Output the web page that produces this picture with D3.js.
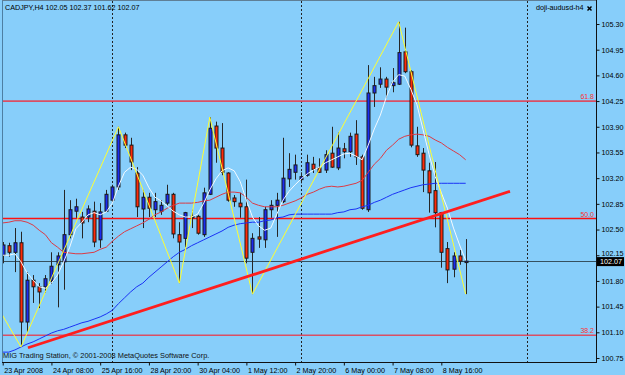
<!DOCTYPE html>
<html><head><meta charset="utf-8">
<script src="https://cdn.jsdelivr.net/npm/d3@7"></script>
<style>
body{margin:0;background:#87cefa;}
svg{display:block;}
text{font-family:"Liberation Sans",Arial,sans-serif;}
</style>
</head><body>
<svg id="c" width="625" height="375"></svg>
<script>
const symbolTitle = "CADJPY,H4";
const headerOHLC = ["102.05", "102.37", "101.62", "102.07"];
const expertName = "doji-audusd-h4";
const copyright = "MIG Trading Station, © 2001-2008 MetaQuotes Software Corp.";

const opens = [102.15,102.28,102.19,102.32,101.24,101.81,101.72,101.72,101.80,102.02,
102.06,102.43,102.75,102.67,102.67,102.75,102.36,102.75,102.90,103.08,
103.79,103.65,103.27,102.78,102.94,102.77,102.75,102.86,102.98,102.43,
102.38,102.66,102.68,102.43,102.98,103.91,103.61,103.27,102.93,102.86,
102.81,102.19,102.40,102.36,102.77,102.83,102.88,103.19,103.28,103.18,
103.24,103.39,103.34,103.31,103.54,103.34,103.60,103.56,103.80,103.49,
102.77,104.36,104.48,104.55,104.46,104.48,104.92,104.65,103.64,103.54,
103.30,103.03,102.73,102.24,101.96,102.14,102.05];
const highs = [102.33,102.32,102.52,102.47,101.92,101.88,101.77,101.88,102.19,102.19,
103.04,102.90,102.92,102.74,102.83,102.88,102.86,103.04,103.11,103.90,
103.82,103.75,103.35,103.04,103.00,103.00,102.90,103.11,103.00,102.60,
102.74,102.77,102.70,103.07,104.03,103.97,103.95,103.28,102.97,103.00,
103.18,102.45,102.67,102.81,102.90,103.00,103.75,103.54,103.52,103.28,
103.52,103.49,103.47,103.58,103.90,103.82,103.68,103.82,103.99,103.52,
104.74,104.58,104.71,104.58,104.70,105.33,105.25,104.67,103.90,103.61,
103.41,103.42,102.74,102.33,102.19,102.22,102.37];
const lows = [102.04,102.13,101.92,100.90,101.10,101.50,101.43,101.64,101.76,101.44,
101.68,102.38,102.66,102.38,102.60,102.26,102.25,102.74,102.88,103.04,
103.61,103.31,102.67,102.52,102.67,102.67,102.70,102.83,102.38,101.77,
102.26,102.52,102.43,102.40,102.97,103.41,103.24,102.88,102.81,102.66,
102.04,101.62,102.25,102.25,102.66,102.40,102.86,103.08,103.18,103.13,
103.22,103.27,103.27,103.27,103.34,103.31,103.47,103.49,103.38,102.77,
102.74,104.17,104.43,104.29,104.37,104.47,104.63,103.62,103.49,103.01,
102.73,102.53,101.98,101.77,101.85,102.02,101.62];
const closes = [102.29,102.19,102.32,101.24,101.81,101.72,101.65,101.83,102.00,102.14,
102.43,102.77,102.81,102.59,102.78,102.33,102.74,102.98,103.08,103.79,
103.65,103.42,102.81,102.94,102.79,102.88,102.83,102.98,102.44,102.33,
102.73,102.68,102.45,103.00,103.88,103.61,103.28,102.90,102.88,102.81,
102.11,102.38,102.37,102.77,102.83,102.90,103.20,103.32,103.38,103.22,
103.41,103.32,103.28,103.52,103.35,103.61,103.56,103.77,103.49,102.79,
104.36,104.46,104.55,104.44,104.50,104.91,104.65,103.65,103.52,103.31,
103.00,102.73,102.19,101.95,102.14,102.07,102.07];

const maFast = [102.15,102.15,102.17,102.06,101.91,101.81,101.72,101.70,101.77,101.88,
102.06,102.26,102.51,102.60,102.70,102.73,102.70,102.74,102.86,103.09,
103.28,103.35,103.32,103.24,103.07,102.94,102.89,102.82,102.75,102.70,
102.67,102.67,102.71,102.86,103.04,103.19,103.30,103.34,103.30,103.15,
102.90,102.67,102.55,102.49,102.52,102.71,102.90,103.02,103.11,103.19,
103.26,103.31,103.35,103.41,103.45,103.49,103.53,103.54,103.50,103.45,
103.65,103.87,104.06,104.31,104.51,104.61,104.59,104.41,104.20,103.86,
103.52,103.22,103.00,102.79,102.52,102.29,102.08];
const maMid = [102.59,102.60,102.62,102.62,102.60,102.56,102.49,102.43,102.32,102.26,
102.19,102.18,102.17,102.17,102.18,102.19,102.23,102.26,102.34,102.41,
102.47,102.51,102.55,102.59,102.64,102.70,102.74,102.79,102.83,102.86,
102.86,102.86,102.87,102.89,102.90,102.94,102.98,103.01,103.01,103.00,
102.94,102.86,102.83,102.81,102.81,102.81,102.83,102.86,102.89,102.93,
102.98,103.01,103.05,103.08,103.09,103.08,103.09,103.11,103.13,103.17,
103.28,103.39,103.47,103.58,103.65,103.73,103.77,103.79,103.80,103.79,
103.77,103.72,103.68,103.62,103.57,103.52,103.45];
const maSlow = [100.83,100.83,100.86,100.90,100.94,100.97,101.01,101.05,101.09,101.12,
101.14,101.17,101.20,101.23,101.25,101.28,101.31,101.35,101.40,101.49,
101.57,101.65,101.72,101.77,101.85,101.92,101.99,102.06,102.13,102.19,
102.23,102.28,102.32,102.36,102.40,102.44,102.48,102.53,102.56,102.58,
102.59,102.60,102.60,102.62,102.63,102.66,102.67,102.70,102.71,102.71,
102.71,102.71,102.71,102.71,102.71,102.73,102.74,102.77,102.78,102.81,
102.83,102.87,102.90,102.94,102.98,103.01,103.04,103.07,103.09,103.11,
103.12,103.13,103.13,103.13,103.13,103.13,103.13];

const zigzagIdx = [-4, 3, 19, 29, 34, 41, 65, 76];
const zigzagPrice = [101.90, 100.90, 103.90, 101.77, 104.03, 101.62, 105.33, 101.62];
const trendIdx = [4.15, 83.27];
const trendPrice = [100.89, 103.02];
const fibLabels = ["61.8", "50.0", "38.2"];
const fibPrices = [104.25, 102.65, 101.06];
const bidPrice = 102.07;
const separatorIdx = [18, 49, 86];
const priceTicks = [105.30,104.95,104.60,104.25,103.90,103.55,103.20,102.85,102.50,102.15,101.80,101.45,101.10,100.75];
const timeTickIdx = [0, 8, 16, 24, 32, 40, 48, 56, 64, 72];
const timeTickLabels = ["23 Apr 2008","24 Apr 08:00","25 Apr 16:00","28 Apr 20:00","30 Apr 04:00","1 May 12:00","2 May 20:00","6 May 00:00","7 May 08:00","8 May 16:00"];

const svg = d3.select("#c");
const plot = {l: 2, t: 1, r: 596, b: 362};
const x = d3.scaleLinear().domain([0, 76]).range([2.7, 2.7 + 76 * 6.092]);
const y = d3.scaleLinear().domain([100.75, 105.30]).range([358, 24]);

svg.append("rect").attr("width", 625).attr("height", 375).attr("fill", "#87cefa");
svg.append("defs").append("clipPath").attr("id", "pc").append("rect")
  .attr("x", plot.l).attr("y", plot.t).attr("width", plot.r - plot.l).attr("height", plot.b - plot.t);
const g = svg.append("g").attr("clip-path", "url(#pc)");

// separators
g.selectAll(".sep").data(separatorIdx).join("line")
  .attr("x1", d => Math.round(x(d)) + 0.5).attr("x2", d => Math.round(x(d)) + 0.5)
  .attr("y1", plot.t).attr("y2", plot.b)
  .attr("stroke", "#222").attr("stroke-width", 1).attr("stroke-dasharray", "2,2");

// fib levels
g.selectAll(".fib").data(fibPrices).join("line")
  .attr("x1", plot.l).attr("x2", plot.r)
  .attr("y1", d => y(d)).attr("y2", d => y(d))
  .attr("stroke", (d, i) => i === 1 ? "#ff1010" : "#e8384a")
  .attr("stroke-width", (d, i) => i === 1 ? 1.4 : 1.6)
  .attr("stroke-opacity", (d, i) => i === 1 ? 1 : 0.85);
svg.selectAll(".fibl").data(fibPrices).join("text")
  .attr("x", 594).attr("y", d => y(d) - 2).attr("text-anchor", "end")
  .attr("font-size", 7).attr("fill", "#ff3030").text((d, i) => fibLabels[i]);

// bid line
g.append("line").attr("x1", plot.l).attr("x2", plot.r)
  .attr("y1", Math.round(y(bidPrice)) + 0.5).attr("y2", Math.round(y(bidPrice)) + 0.5)
  .attr("stroke", "#35505e").attr("stroke-width", 1);

// candles
const idx = d3.range(opens.length);
g.selectAll(".wick").data(idx).join("line")
  .attr("x1", i => Math.round(x(i)) + 0.5).attr("x2", i => Math.round(x(i)) + 0.5)
  .attr("y1", i => y(highs[i])).attr("y2", i => y(lows[i]))
  .attr("stroke", "#262626").attr("stroke-width", 1);
g.selectAll(".body").data(idx).join("rect")
  .attr("x", i => Math.round(x(i)) - 1)
  .attr("width", 3)
  .attr("y", i => y(Math.max(opens[i], closes[i])))
  .attr("height", i => Math.max(1, Math.abs(y(opens[i]) - y(closes[i]))))
  .attr("fill", i => closes[i] >= opens[i] ? "#1a2cf0" : "#ff2a08")
  .attr("stroke", "#1a1a1a").attr("stroke-width", 1);

// moving averages
const maLine = arr => d3.line().x((d, i) => x(i)).y(d => y(d))(arr);
g.append("path").attr("d", maLine(maSlow)).attr("fill", "none").attr("stroke", "#1a32f5").attr("stroke-width", 1);
g.append("path").attr("d", maLine(maMid)).attr("fill", "none").attr("stroke", "#dc3a44").attr("stroke-width", 1);
g.append("path").attr("d", maLine(maFast)).attr("fill", "none").attr("stroke", "#f4faff").attr("stroke-width", 1);

// zigzag
g.append("path").attr("d", d3.line().x((d, i) => x(zigzagIdx[i])).y(d => y(d))(zigzagPrice))
  .attr("fill", "none").attr("stroke", "#ffff30").attr("stroke-width", 1);

// trendline
g.append("path").attr("d", d3.line().x((d, i) => x(trendIdx[i])).y(d => y(d))(trendPrice))
  .attr("fill", "none").attr("stroke", "#ff1e1e").attr("stroke-width", 2.8);

// frame
svg.append("line").attr("x1", 2.5).attr("x2", 2.5).attr("y1", 0).attr("y2", plot.b).attr("stroke", "#4d7fa3");
svg.append("line").attr("x1", 2).attr("x2", plot.r).attr("y1", 0.5).attr("y2", 0.5).attr("stroke", "#5f7f95");
svg.append("line").attr("x1", plot.r + 0.5).attr("x2", plot.r + 0.5).attr("y1", 0).attr("y2", plot.b + 0.5).attr("stroke", "#111");
svg.append("line").attr("x1", 2).attr("x2", plot.r + 1).attr("y1", plot.b + 0.5).attr("y2", plot.b + 0.5).attr("stroke", "#111");

// price axis
const ya = svg.append("g").attr("transform", `translate(${plot.r + 0.5},0)`)
  .call(d3.axisRight(y).tickValues(priceTicks).tickSize(3).tickPadding(2).tickFormat(d3.format(".2f")));
ya.select(".domain").remove();
ya.selectAll("line").attr("stroke", "#111");
ya.selectAll("text").attr("font-size", 7.2).attr("font-family", "Liberation Sans, Arial, sans-serif").attr("fill", "#000")
  .attr("dy", d => Math.abs(d - 102.15) < 0.001 ? "0.05em" : "0.32em");

// bid label
svg.append("rect").attr("x", 597).attr("y", y(bidPrice) - 4).attr("width", 27).attr("height", 9).attr("fill", "#000");
svg.append("text").attr("x", 600).attr("y", y(bidPrice) + 3).attr("font-size", 7.2).attr("fill", "#fff").text(d3.format(".2f")(bidPrice));

// time axis
const xa = svg.append("g").attr("transform", `translate(0,${plot.b + 0.5})`)
  .call(d3.axisBottom(x).tickValues(timeTickIdx).tickSize(3).tickFormat((d, i) => timeTickLabels[i]));
xa.select(".domain").remove();
xa.selectAll("line").attr("stroke", "#111");
xa.selectAll("text").attr("font-size", 7.2).attr("font-family", "Liberation Sans, Arial, sans-serif")
  .attr("fill", "#000").attr("text-anchor", "start").attr("dx", 1).attr("dy", 0).attr("y", 10);

// texts
svg.append("text").attr("x", 5).attr("y", 10).attr("font-size", 7.2).attr("fill", "#000")
  .text(symbolTitle + "  " + headerOHLC.join(" "));
svg.append("text").attr("x", 536).attr("y", 10).attr("font-size", 7.2).attr("fill", "#000").text(expertName);
const xm = svg.append("g").attr("stroke", "#000").attr("stroke-width", 1.4);
xm.append("line").attr("x1", 587.5).attr("y1", 6.5).attr("x2", 591.5).attr("y2", 10.5);
xm.append("line").attr("x1", 591.5).attr("y1", 6.5).attr("x2", 587.5).attr("y2", 10.5);
svg.append("text").attr("x", 3).attr("y", 357.5).attr("font-size", 7.4).attr("fill", "#111").text(copyright);
</script>
</body></html>
